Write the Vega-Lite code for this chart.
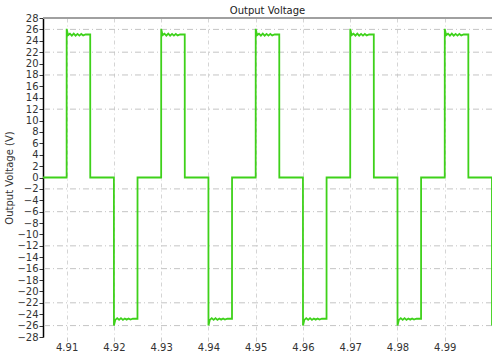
{
  "$schema": "https://vega.github.io/schema/vega-lite/v6.json",
  "autosize": "none",
  "width": 449,
  "height": 319,
  "padding": {"left": 43, "top": 18, "right": 1, "bottom": 21},
  "background": "white",
  "config": {
    "view": {"stroke": null},
    "font": "DejaVu Sans",
    "axis": {"labelFont": "DejaVu Sans", "titleFont": "DejaVu Sans", "labelColor": "#333", "titleColor": "#333", "labelFontSize": 10, "titleFontSize": 10, "titleFontWeight": "normal"}
  },
  "title": {"text": "Output Voltage", "fontSize": 10, "fontWeight": "normal", "color": "#222", "offset": -3, "font": "DejaVu Sans"},
  "layer": [
    {
      "data": {"values": [{"g": 26}, {"g": 22}, {"g": 18}, {"g": 12}, {"g": -2}, {"g": -6}, {"g": -12}, {"g": -16}, {"g": -22}, {"g": -26}]},
      "mark": {"type": "rule", "color": "#c4c4c4", "strokeDash": [6, 3, 1, 3], "strokeWidth": 1},
      "encoding": {"y": {"field": "g", "type": "quantitative", "scale": {"domain": [-28, 28], "nice": false},
        "axis": {"values": [-28, -26, -24, -22, -20, -18, -16, -14, -12, -10, -8, -6, -4, -2, 0, 2, 4, 6, 8, 10, 12, 14, 16, 18, 20, 22, 24, 26, 28], "title": "Output Voltage (V)", "grid": false, "domain": true, "domainColor": "#000", "domainWidth": 1.5, "tickColor": "#333", "tickSize": 4, "labelPadding": 1, "titlePadding": 2, "labelFontSize": 10, "labelOverlap": false}}}
    },
    {
      "data": {"values": [{"top": 28}]},
      "mark": {"type": "rule", "color": "#a0a0a0", "strokeWidth": 2},
      "encoding": {"y": {"field": "top", "type": "quantitative",
        "axis": {"values": [-28, -26, -24, -22, -20, -18, -16, -14, -12, -10, -8, -6, -4, -2, 0, 2, 4, 6, 8, 10, 12, 14, 16, 18, 20, 22, 24, 26, 28], "title": "Output Voltage (V)", "grid": false, "domain": true, "domainColor": "#000", "domainWidth": 1.5, "tickColor": "#333", "tickSize": 4, "labelPadding": 1, "titlePadding": 2, "labelFontSize": 10, "labelOverlap": false}}}
    },
    {
      "data": {"values": [
        {"t": 4.905, "v": 0},
        {"t": 4.91, "v": 0}, {"t": 4.91001, "v": 26.1}, {"t": 4.9103, "v": 25.0}, {"t": 4.9107, "v": 25.25}, {"t": 4.9111, "v": 24.9}, {"t": 4.9115, "v": 25.25}, {"t": 4.9119, "v": 24.9}, {"t": 4.9123, "v": 25.2}, {"t": 4.9127, "v": 24.9}, {"t": 4.9131, "v": 25.2}, {"t": 4.9135, "v": 24.95}, {"t": 4.914, "v": 25.1}, {"t": 4.91499, "v": 25.1}, {"t": 4.915, "v": 0},
        {"t": 4.92, "v": 0}, {"t": 4.92001, "v": -26.0}, {"t": 4.9203, "v": -25.0}, {"t": 4.9207, "v": -24.7}, {"t": 4.9211, "v": -25.0}, {"t": 4.9215, "v": -24.7}, {"t": 4.9219, "v": -25.0}, {"t": 4.9223, "v": -24.75}, {"t": 4.9227, "v": -24.95}, {"t": 4.9231, "v": -24.75}, {"t": 4.9235, "v": -24.95}, {"t": 4.924, "v": -24.8}, {"t": 4.92499, "v": -24.8}, {"t": 4.925, "v": 0},
        {"t": 4.93, "v": 0}, {"t": 4.93001, "v": 26.1}, {"t": 4.9303, "v": 25.0}, {"t": 4.9307, "v": 25.25}, {"t": 4.9311, "v": 24.9}, {"t": 4.9315, "v": 25.25}, {"t": 4.9319, "v": 24.9}, {"t": 4.9323, "v": 25.2}, {"t": 4.9327, "v": 24.9}, {"t": 4.9331, "v": 25.2}, {"t": 4.9335, "v": 24.95}, {"t": 4.934, "v": 25.1}, {"t": 4.93499, "v": 25.1}, {"t": 4.935, "v": 0},
        {"t": 4.94, "v": 0}, {"t": 4.94001, "v": -26.0}, {"t": 4.9403, "v": -25.0}, {"t": 4.9407, "v": -24.7}, {"t": 4.9411, "v": -25.0}, {"t": 4.9415, "v": -24.7}, {"t": 4.9419, "v": -25.0}, {"t": 4.9423, "v": -24.75}, {"t": 4.9427, "v": -24.95}, {"t": 4.9431, "v": -24.75}, {"t": 4.9435, "v": -24.95}, {"t": 4.944, "v": -24.8}, {"t": 4.94499, "v": -24.8}, {"t": 4.945, "v": 0},
        {"t": 4.95, "v": 0}, {"t": 4.95001, "v": 26.1}, {"t": 4.9503, "v": 25.0}, {"t": 4.9507, "v": 25.25}, {"t": 4.9511, "v": 24.9}, {"t": 4.9515, "v": 25.25}, {"t": 4.9519, "v": 24.9}, {"t": 4.9523, "v": 25.2}, {"t": 4.9527, "v": 24.9}, {"t": 4.9531, "v": 25.2}, {"t": 4.9535, "v": 24.95}, {"t": 4.954, "v": 25.1}, {"t": 4.95499, "v": 25.1}, {"t": 4.955, "v": 0},
        {"t": 4.96, "v": 0}, {"t": 4.96001, "v": -26.0}, {"t": 4.9603, "v": -25.0}, {"t": 4.9607, "v": -24.7}, {"t": 4.9611, "v": -25.0}, {"t": 4.9615, "v": -24.7}, {"t": 4.9619, "v": -25.0}, {"t": 4.9623, "v": -24.75}, {"t": 4.9627, "v": -24.95}, {"t": 4.9631, "v": -24.75}, {"t": 4.9635, "v": -24.95}, {"t": 4.964, "v": -24.8}, {"t": 4.96499, "v": -24.8}, {"t": 4.965, "v": 0},
        {"t": 4.97, "v": 0}, {"t": 4.97001, "v": 26.1}, {"t": 4.9703, "v": 25.0}, {"t": 4.9707, "v": 25.25}, {"t": 4.9711, "v": 24.9}, {"t": 4.9715, "v": 25.25}, {"t": 4.9719, "v": 24.9}, {"t": 4.9723, "v": 25.2}, {"t": 4.9727, "v": 24.9}, {"t": 4.9731, "v": 25.2}, {"t": 4.9735, "v": 24.95}, {"t": 4.974, "v": 25.1}, {"t": 4.97499, "v": 25.1}, {"t": 4.975, "v": 0},
        {"t": 4.98, "v": 0}, {"t": 4.98001, "v": -26.0}, {"t": 4.9803, "v": -25.0}, {"t": 4.9807, "v": -24.7}, {"t": 4.9811, "v": -25.0}, {"t": 4.9815, "v": -24.7}, {"t": 4.9819, "v": -25.0}, {"t": 4.9823, "v": -24.75}, {"t": 4.9827, "v": -24.95}, {"t": 4.9831, "v": -24.75}, {"t": 4.9835, "v": -24.95}, {"t": 4.984, "v": -24.8}, {"t": 4.98499, "v": -24.8}, {"t": 4.985, "v": 0},
        {"t": 4.99, "v": 0}, {"t": 4.99001, "v": 26.1}, {"t": 4.9903, "v": 25.0}, {"t": 4.9907, "v": 25.25}, {"t": 4.9911, "v": 24.9}, {"t": 4.9915, "v": 25.25}, {"t": 4.9919, "v": 24.9}, {"t": 4.9923, "v": 25.2}, {"t": 4.9927, "v": 24.9}, {"t": 4.9931, "v": 25.2}, {"t": 4.9935, "v": 24.95}, {"t": 4.994, "v": 25.1}, {"t": 4.99499, "v": 25.1}, {"t": 4.995, "v": 0},
        {"t": 4.99999, "v": 0}, {"t": 5.0, "v": -26.0}
      ]},
      "mark": {"type": "line", "color": "#3ed11a", "strokeWidth": 1.8, "clip": true, "strokeJoin": "miter"},
      "encoding": {
        "x": {"field": "t", "type": "quantitative", "scale": {"domain": [4.905, 5.0], "nice": false, "zero": false},
          "axis": {"values": [4.91, 4.92, 4.93, 4.94, 4.95, 4.96, 4.97, 4.98, 4.99], "format": ".2f", "title": null, "domain": false, "grid": true, "gridColor": "#d4d4d4", "gridDash": [4, 3, 1, 3], "ticks": true, "tickColor": "#c8c8c8", "tickSize": 4, "labelPadding": 1, "labelFontSize": 10}},
        "y": {"field": "v", "type": "quantitative", "scale": {"domain": [-28, 28], "nice": false},
          "axis": {"values": [-28, -26, -24, -22, -20, -18, -16, -14, -12, -10, -8, -6, -4, -2, 0, 2, 4, 6, 8, 10, 12, 14, 16, 18, 20, 22, 24, 26, 28], "title": "Output Voltage (V)", "grid": false, "domain": true, "domainColor": "#000", "domainWidth": 1.5, "tickColor": "#333", "tickSize": 4, "labelPadding": 1, "titlePadding": 2, "labelFontSize": 10, "labelOverlap": false}}
      }
    }
  ]
}
